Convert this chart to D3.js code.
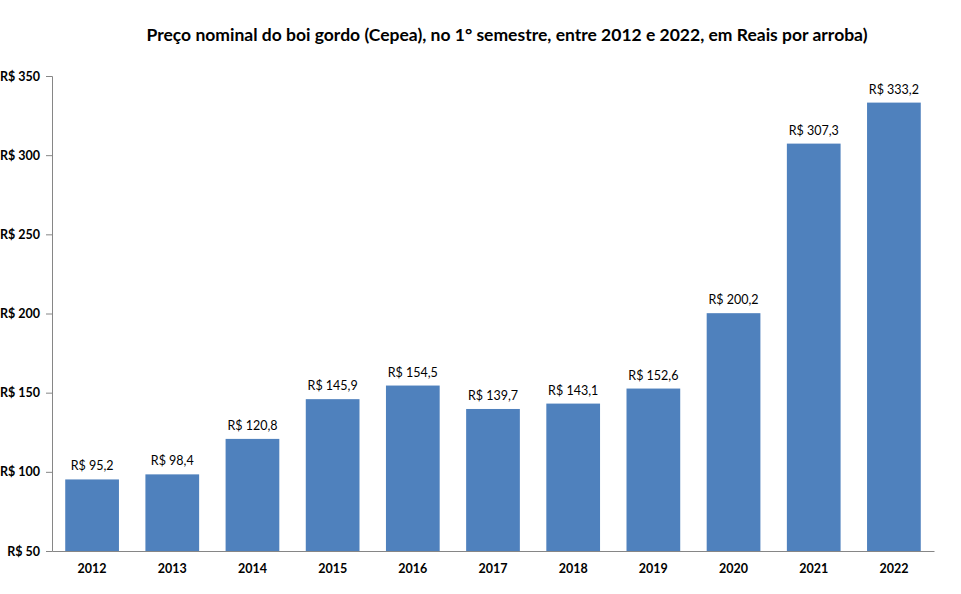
<!DOCTYPE html>
<html><head><meta charset="utf-8">
<script src="https://cdn.jsdelivr.net/npm/d3@7"></script>
<style>body{margin:0;background:#fff}svg{display:block}</style>
</head><body>
<svg id="c" width="961" height="594"></svg>
<script>
const years = ["2012","2013","2014","2015","2016","2017","2018","2019","2020","2021","2022"];
const prices = [95.2, 98.4, 120.8, 145.9, 154.5, 139.7, 143.1, 152.6, 200.2, 307.3, 333.2];
const yTicks = [50, 100, 150, 200, 250, 300, 350];
const title = "Preço nominal do boi gordo (Cepea), no 1° semestre, entre 2012 e 2022, em Reais por arroba)";

(function () {
const svg = d3.select("#c");
const font = "Lato, 'Open Sans', sans-serif";
const mLeft = 52, mRight = 934, mTop = 76, mBottom = 551;

const x = d3.scaleBand().domain(years).range([mLeft, mRight]).paddingInner(0.33).paddingOuter(0.165);
const y = d3.scaleLinear().domain([50, 350]).range([mBottom, mTop]);

svg.append("text").attr("x", 507).attr("y", 41).attr("text-anchor", "middle")
  .attr("font-family", font).attr("font-weight", "bold").attr("font-size", 17)
  .attr("textLength", 721).attr("lengthAdjust", "spacingAndGlyphs")
  .attr("fill", "#000").text(title);

svg.selectAll("rect.bar").data(years).enter().append("rect")
  .attr("class", "bar")
  .attr("x", d => x(d)).attr("width", x.bandwidth())
  .attr("y", (d, i) => y(prices[i])).attr("height", (d, i) => mBottom - y(prices[i]))
  .attr("fill", "#4F81BD");

const fmt = v => "R$ " + v.toFixed(1).replace(".", ",");
svg.selectAll("text.val").data(years).enter().append("text")
  .attr("class", "val")
  .attr("x", d => x(d) + x.bandwidth() / 2)
  .attr("y", (d, i) => y(prices[i]) - 9)
  .attr("text-anchor", "middle").attr("font-family", font).attr("font-size", 12.5)
  .attr("fill", "#000").text((d, i) => fmt(prices[i]));

const yAxis = d3.axisLeft(y).tickValues(yTicks).tickSize(6).tickPadding(6)
  .tickFormat(d => "R$ " + d);
const gy = svg.append("g").attr("transform", `translate(${mLeft},0)`).call(yAxis);
gy.select(".domain").attr("stroke", "#868686");
gy.selectAll(".tick line").attr("stroke", "#868686");
gy.selectAll(".tick text").attr("font-family", font).attr("font-weight", "bold")
  .attr("font-size", 12.5).attr("fill", "#000");

const xAxis = d3.axisBottom(x).tickSize(0).tickPadding(13);
const gx = svg.append("g").attr("transform", `translate(0,${mBottom})`).call(xAxis);
gx.select(".domain").attr("stroke", "#868686");
gx.selectAll(".tick text").attr("font-family", font).attr("font-weight", "bold")
  .attr("font-size", 12.5).attr("fill", "#000");
})();
</script>
</body></html>
